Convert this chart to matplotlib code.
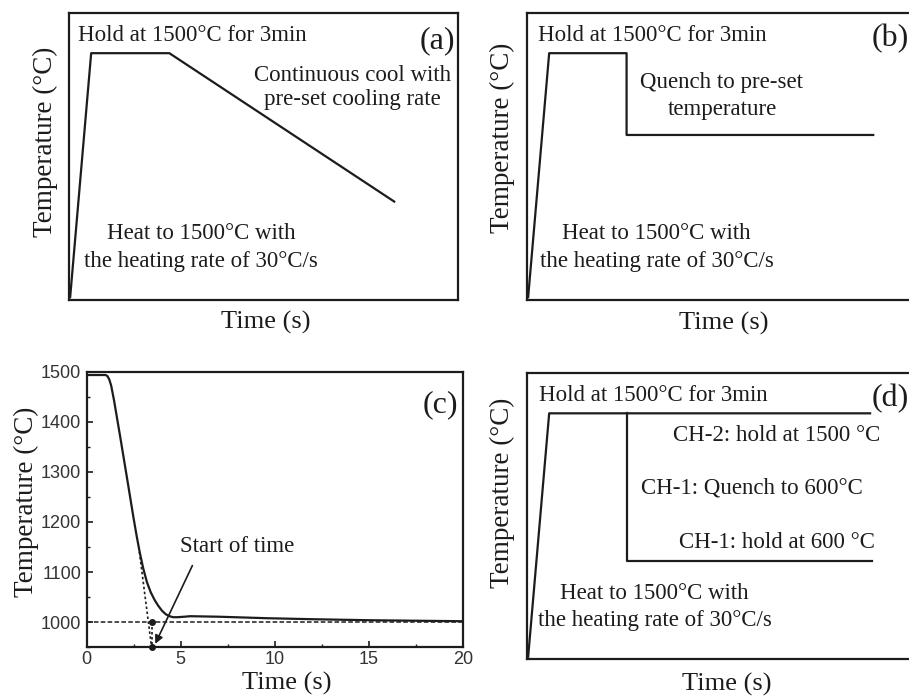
import matplotlib
matplotlib.use('Agg')
import matplotlib.pyplot as plt
from matplotlib.ticker import MultipleLocator

W, H = 909, 700
INK = '#1c1c1c'

plt.rcParams['font.family'] = ['Liberation Serif', 'DejaVu Serif']

# ---------------- data ----------------
# schematic profiles (normalised time / temperature, 0..1)
a_time = [0.003, 0.057, 0.258, 0.836]
a_temp = [0.01, 0.86, 0.86, 0.343]

b_time = [0.003, 0.057, 0.256, 0.256, 0.89]
b_temp = [0.01, 0.86, 0.86, 0.575, 0.575]

d_ch2_time = [0.003, 0.057, 0.882]
d_ch2_temp = [0.008, 0.859, 0.859]
d_ch1_time = [0.256, 0.256, 0.887]
d_ch1_temp = [0.859, 0.343, 0.343]

# measured quench curve, panel (c)
c_time = [0, 1.0, 1.1, 1.2, 1.3, 1.45, 1.78, 2.22, 2.48, 2.66, 2.8, 3.0, 3.2,
          3.4, 3.6, 3.8, 4.0, 4.2, 4.4, 4.6, 4.8, 5.2, 5.5, 7, 9.6, 12, 15, 20]
c_temp = [1493, 1493, 1491, 1484, 1472, 1443, 1370, 1270, 1210, 1171, 1143,
          1108, 1080, 1060, 1045, 1033, 1023, 1016, 1012, 1010, 1010, 1011,
          1012, 1011, 1008, 1006, 1004, 1002]
target_temp = 1000
start_time = 3.45
tangent_time = [2.8, start_time]
tangent_temp = [1140, 950]

heat_note = 'Heat to 1500\u00b0C with\nthe heating rate of 30\u00b0C/s'
hold_note = 'Hold at 1500\u00b0C for 3min'


def px_box(left, top, right, bottom):
    return [left / W, 1 - bottom / H, (right - left) / W, (bottom - top) / H]


def schematic(ax, tag, tag_xy):
    ax.set_xlim(0, 1)
    ax.set_ylim(0, 1)
    ax.set_xticks([])
    ax.set_yticks([])
    for s in ax.spines.values():
        s.set_linewidth(1.6)
        s.set_color(INK)
    ax.text(tag_xy[0], tag_xy[1], tag, fontsize=23, ha='center', va='center',
            color=INK, transform=ax.transAxes)


def note(ax, x, y, s, ls=1.0, **kw):
    ax.text(x, y, s, fontsize=16.5, va='center', color=INK, linespacing=ls,
            multialignment='center', **kw)


fig = plt.figure(figsize=(W / 100, H / 100), dpi=100)

# ---------------- (a) ----------------
ax = fig.add_axes(px_box(69, 13, 458, 300))
schematic(ax, '(a)', (0.946, 0.905))
ax.plot(a_time, a_temp, color=INK, lw=1.6)
note(ax, 0.023, 0.923, hold_note)
note(ax, 0.728, 0.74, 'Continuous cool with\npre-set cooling rate', ls=1.2, ha='center')
note(ax, 0.34, 0.183, heat_note, ls=1.38, ha='center')

# ---------------- (b) ----------------
ax = fig.add_axes(px_box(527, 13, 916, 300))
schematic(ax, '(b)', (0.935, 0.91))
ax.plot(b_time, b_temp, color=INK, lw=1.6)
note(ax, 0.028, 0.923, hold_note)
note(ax, 0.501, 0.711, 'Quench to pre-set\ntemperature', ls=1.33, ha='center')
note(ax, 0.333, 0.183, heat_note, ls=1.38, ha='center')

# ---------------- (d) ----------------
ax = fig.add_axes(px_box(527, 373, 916, 659))
schematic(ax, '(d)', (0.933, 0.909))
ax.plot(d_ch2_time, d_ch2_temp, color=INK, lw=1.6)
ax.plot(d_ch1_time, d_ch1_temp, color=INK, lw=1.6)
note(ax, 0.031, 0.923, hold_note)
note(ax, 0.642, 0.783, 'CH-2: hold at 1500 \u00b0C', ha='center')
note(ax, 0.578, 0.598, 'CH-1: Quench to 600\u00b0C', ha='center')
note(ax, 0.642, 0.406, 'CH-1: hold at 600 \u00b0C', ha='center')
note(ax, 0.328, 0.182, heat_note, ls=1.38, ha='center')

# ---------------- (c) ----------------
ax = fig.add_axes(px_box(86.7, 371.5, 463, 647.3))
ax.plot(c_time, c_temp, color=INK, lw=1.6)
ax.axhline(target_temp, color=INK, lw=1.1, ls=(0, (3, 1.5)))
ax.plot(tangent_time, tangent_temp, color=INK, lw=1.2, ls=(0, (1.5, 1.5)))
ax.plot([start_time, start_time], [target_temp, 950], color=INK, lw=1.2,
        ls=(0, (1.5, 1.5)), marker='o', ms=4, clip_on=False)
ax.annotate('', xy=(3.58, 952), xytext=(5.68, 1118),
            arrowprops=dict(arrowstyle='-|>', color=INK, lw=1.2, mutation_scale=12))
ax.text(4.97, 1151, 'Start of time', fontsize=16.5, va='center', color=INK)
ax.text(18.8, 1433, '(c)', fontsize=23, ha='center', va='center', color=INK)
ax.set_xlim(0, 20)
ax.set_ylim(950, 1500)
ax.xaxis.set_major_locator(MultipleLocator(5))
ax.xaxis.set_minor_locator(MultipleLocator(2.5))
ax.yaxis.set_major_locator(MultipleLocator(100))
ax.yaxis.set_minor_locator(MultipleLocator(50))
ax.tick_params(which='both', direction='in', color=INK)
ax.tick_params(which='major', length=4.5, width=1.2)
ax.tick_params(which='minor', length=2.5, width=1.0)
for lab in ax.get_xticklabels() + ax.get_yticklabels():
    lab.set_fontfamily('Liberation Sans')
    lab.set_fontsize(13)
    lab.set_color('#333333')
ax.tick_params(axis='y', pad=4)
ax.tick_params(axis='x', pad=2.5)
for s in ax.spines.values():
    s.set_linewidth(1.6)
    s.set_color(INK)

# ---------------- axis titles ----------------
ylab = 'Temperature (\u00b0C)'
xlab = 'Time (s)'
for x, y in [(45, 142), (502, 138), (26, 502), (502, 493)]:
    fig.text(x / W, 1 - y / H, ylab, rotation=90, fontsize=19.5,
             ha='center', va='center', color=INK)
for x, y in [(266, 322), (724, 323), (287, 683), (727, 684)]:
    fig.text(x / W, 1 - y / H, xlab, fontsize=19, ha='center', va='center', color=INK)

fig.savefig('out.png', dpi=100)
